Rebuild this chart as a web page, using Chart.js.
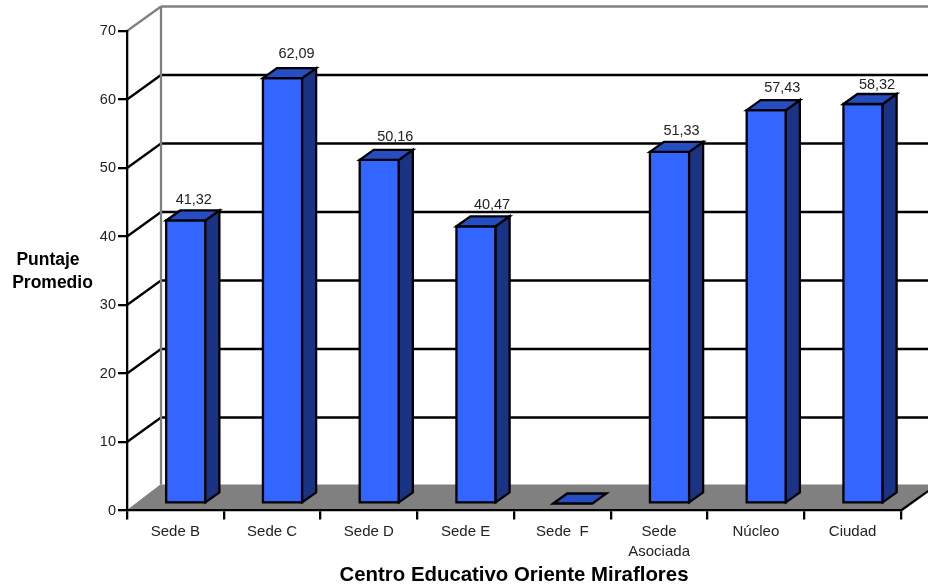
<!DOCTYPE html>
<html>
<head>
<meta charset="utf-8">
<title>Puntaje Promedio</title>
<script src="https://cdn.jsdelivr.net/npm/chart.js@4"></script>
<style>
  html, body { margin: 0; padding: 0; background: #fff; }
  canvas { display: block; }
</style>
</head>
<body>
<canvas id="chart" width="928" height="588"></canvas>
<script>
const categories = ['Sede B', 'Sede C', 'Sede D', 'Sede E', 'Sede  F', ['Sede', 'Asociada'], 'Núcleo', 'Ciudad'];
const puntajes = [41.32, 62.09, 50.16, 40.47, 0, 51.33, 57.43, 58.32];
const yTicks = [0, 10, 20, 30, 40, 50, 60, 70];
const yTitleLines = ['Puntaje', 'Promedio'];
const xTitle = 'Centro Educativo Oriente Miraflores';

const FONT = '"Liberation Sans", Arial, sans-serif';
const wall = { dx: 34, dy: -24.5 };    // front plane to back wall
const barShift = { dx: 10.4, dy: -7 }; // front plane to bar front
const barDepth = { dx: 14, dy: -10 };
const LINE = 2.3;
// the value labels do not sit evenly over the bars in the original
const labelNudgeX = [0, 6, 8, 8, 0, 4, 8, 6];
const labelNudgeY = [-6, -10, -9, -7, 0, -7, -8, -5];
const yTitleX = [48, 52.5];
const yTitleY = [260, 283];

const poly = (ctx, pts, fill, stroke, lw) => {
    ctx.beginPath();
    pts.forEach((p, i) => i ? ctx.lineTo(p[0], p[1]) : ctx.moveTo(p[0], p[1]));
    ctx.closePath();
    if (fill) { ctx.fillStyle = fill; ctx.fill(); }
    if (stroke) { ctx.strokeStyle = stroke; ctx.lineWidth = lw; ctx.lineJoin = 'miter'; ctx.stroke(); }
};

const line = (ctx, x1, y1, x2, y2, color, lw) => {
    ctx.beginPath();
    ctx.moveTo(x1, y1);
    ctx.lineTo(x2, y2);
    ctx.strokeStyle = color;
    ctx.lineWidth = lw;
    ctx.stroke();
};

// back wall, floor and grid sit behind the scales
const wallPlugin = {
    id: 'wall',
    beforeDraw(chart) {
        const { ctx, chartArea: a, scales } = chart;
        const y = scales.y;
        const y0 = y.getPixelForValue(0);
        const yTop = y.getPixelForValue(70);
        const bx = a.left + wall.dx;
        ctx.save();
        ctx.fillStyle = '#fff';
        ctx.fillRect(0, 0, chart.width, chart.height);

        poly(ctx, [[a.left, y0], [a.right, y0], [a.right + wall.dx, y0 + wall.dy - 1.5], [bx, y0 + wall.dy - 1.5]], '#808080');

        yTicks.forEach(v => {
            if (v === 0 || v === 70) return;
            const py = y.getPixelForValue(v);
            line(ctx, a.left, py, bx, py + wall.dy, '#000', LINE);
            line(ctx, bx, py + wall.dy, a.right + wall.dx, py + wall.dy, '#000', LINE);
        });

        line(ctx, a.left, yTop, bx, yTop + wall.dy, '#808080', LINE);
        line(ctx, bx, yTop + wall.dy, a.right + wall.dx, yTop + wall.dy, '#808080', LINE);
        line(ctx, bx, yTop + wall.dy, bx, y0 + wall.dy - 1.5, '#808080', LINE);
        line(ctx, a.left, y0, bx, y0 + wall.dy - 1.5, '#808080', 1);
        line(ctx, a.right, y0, a.right + wall.dx, y0 + wall.dy, '#000', LINE);
        ctx.restore();
    }
};

// bars are filled by the library, only moved into the depth of the chart
const bars3dPlugin = {
    id: 'bars3d',
    beforeDatasetsDraw(chart) {
        chart.ctx.save();
        chart.ctx.translate(barShift.dx, barShift.dy);
    },
    afterDatasetsDraw(chart) {
        const { ctx } = chart;
        chart.getDatasetMeta(0).data.forEach((bar, i) => {
            const { x, y, base, width } = bar.getProps(['x', 'y', 'base', 'width'], true);
            const l = x - width / 2;
            const r = x + width / 2;
            if (puntajes[i]) {
                poly(ctx, [[l, y], [r, y], [r, base], [l, base]], null, '#000', LINE);
                poly(ctx, [[r, y], [r + barDepth.dx, y + barDepth.dy], [r + barDepth.dx, base + barDepth.dy], [r, base]], '#1a3385', '#000', LINE);
            }
            poly(ctx, [[l, y], [l + barDepth.dx, y + barDepth.dy], [r + barDepth.dx, y + barDepth.dy], [r, y]], '#264dc2', '#000', LINE);
        });
        ctx.restore();

        ctx.save();
        ctx.fillStyle = '#222';
        ctx.font = '14.5px ' + FONT;
        ctx.textAlign = 'center';
        ctx.textBaseline = 'middle';
        chart.getDatasetMeta(0).data.forEach((bar, i) => {
            if (!puntajes[i]) return;
            const { x, y } = bar.getProps(['x', 'y'], true);
            ctx.fillText(puntajes[i].toFixed(2).replace('.', ','), x + barShift.dx + 8 + labelNudgeX[i], y + barShift.dy - 14 + labelNudgeY[i]);
        });

        ctx.fillStyle = '#000';
        ctx.font = 'bold 17.5px ' + FONT;
        yTitleLines.forEach((txt, i) => ctx.fillText(txt, yTitleX[i], yTitleY[i]));
        ctx.restore();
    }
};

new Chart(document.getElementById('chart'), {
    type: 'bar',
    data: {
        labels: categories,
        datasets: [{
            label: 'Puntaje Promedio',
            data: puntajes,
            backgroundColor: '#3366ff',
            borderWidth: 0,
            barPercentage: 0.405,
            categoryPercentage: 1
        }]
    },
    options: {
        responsive: false,
        animation: false,
        events: [],
        layout: { padding: { top: 31, right: 27, left: 0, bottom: 0 }, autoPadding: false },
        plugins: { legend: { display: false }, tooltip: { enabled: false }, title: { display: false } },
        scales: {
            x: {
                afterFit(scale) { scale.height = 77.5; },
                grid: { drawOnChartArea: false, drawTicks: true, tickLength: 9, color: '#000', lineWidth: LINE },
                border: { color: '#000', width: LINE },
                ticks: { color: '#222', font: { family: FONT, size: 15, lineHeight: 1.33 }, padding: 2, maxRotation: 0, autoSkip: false },
                title: { display: true, text: xTitle, color: '#000', font: { family: FONT, size: 20.4, weight: 'bold' }, padding: { top: 0, bottom: 0 } }
            },
            y: {
                min: 0,
                max: 70,
                afterFit(scale) { scale.width = 127; },
                afterBuildTicks(scale) { scale.ticks = yTicks.map(v => ({ value: v })); },
                grid: { drawOnChartArea: false, drawTicks: true, tickLength: 9, color: '#000', lineWidth: LINE },
                border: { color: '#000', width: LINE },
                ticks: { color: '#222', font: { family: FONT, size: 14.5 }, padding: 2 }
            }
        }
    },
    plugins: [wallPlugin, bars3dPlugin]
});
</script>
</body>
</html>
